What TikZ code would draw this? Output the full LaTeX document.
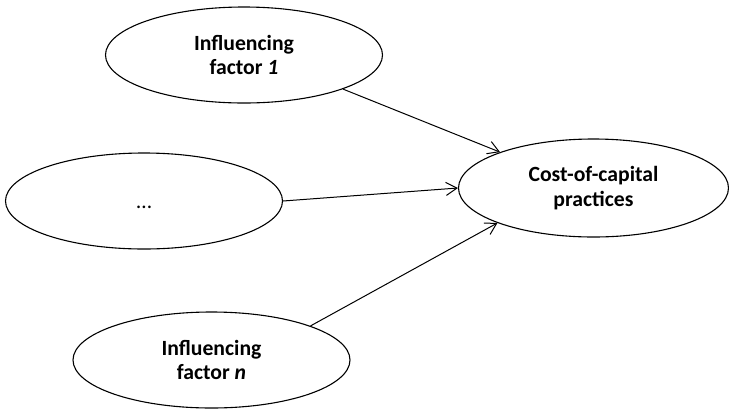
\documentclass[tikz,border=0pt]{standalone}
\usepackage{fontspec}
\setmainfont{Carlito}
\usetikzlibrary{shapes.geometric,arrows.meta}
\begin{document}
\begin{tikzpicture}[x=1pt,y=-1pt,
  factor/.style={ellipse,draw,line width=1.1pt,minimum width=277pt,minimum height=96pt,
    inner sep=0pt,align=center,font=\fontsize{21.7}{24.5}\selectfont\bfseries},
  link/.style={line width=1pt,-{Straight Barb[length=11pt,width=13pt,line width=1pt]}}]
  \useasboundingbox (0,0) rectangle (729,408);
  % influencing factors on the left, outcome on the right
  \node[factor] (f1)  at (244,55)    {Influencing\\factor \textit{1}};
  \node[factor] (mid) at (144,201)   {\mdseries\raisebox{-7pt}[0pt][0pt]{…}};
  \node[factor] (fn)  at (211.5,360) {Influencing\\factor \textit{n}};
  \node[factor, minimum width=270pt, minimum height=98pt] (out) at (593.5,188) {Cost-of-capital\\practices};
  % arrows into the outcome
  \draw[link] (f1.-19)   -- (out.159.5);
  \draw[link] (mid.-0.4) -- (out.180);
  \draw[link] (fn.19.7)  -- (out.200.1);
\end{tikzpicture}
\end{document}
